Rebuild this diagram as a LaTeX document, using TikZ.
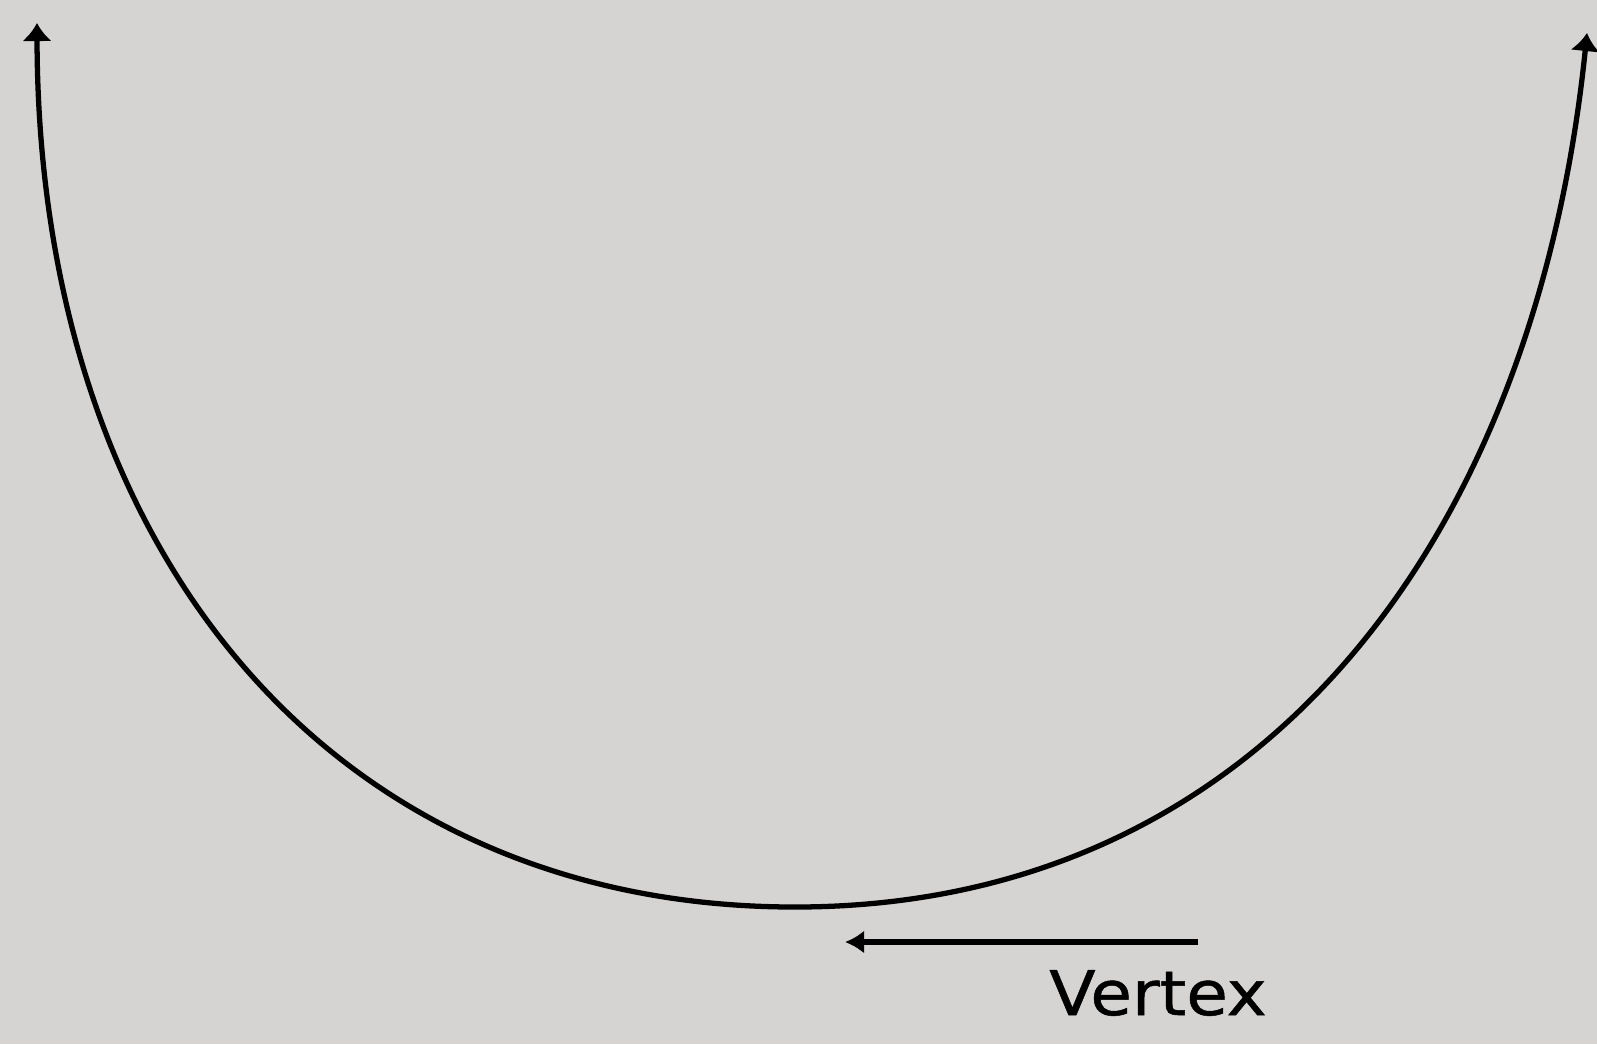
\documentclass[tikz,border=0pt]{standalone}
\usepackage{fontspec}
\setmainfont{DejaVu Sans}
\newfontfamily\vxfont[FakeStretch=1.1,FakeBold=0.8]{DejaVu Sans}
\usetikzlibrary{arrows.meta}

\definecolor{paper}{RGB}{214,212,210}

\begin{document}
\begin{tikzpicture}[curve/.style = {line width=1.5pt, -{Latex[length=1.8mm,width=3mm]}},
                    label/.style = {font=\vxfont\fontsize{17.5}{20}\selectfont, inner sep=0pt}]
            \fill[paper] (0,0) rectangle (15.97,-10.44);
            \useasboundingbox (0,0) rectangle (15.97,-10.44);

            % the parabola, drawn from its lowest point outwards
            \coordinate (V) at (7.95,-9.07);
            \coordinate (L) at (0.37,-0.23);
            \coordinate (R) at (15.87,-0.33);
            \draw[curve] (V) .. controls (3.30,-9.07) and (0.38,-5.50) .. (L);
            \draw[curve] (V) .. controls (12.60,-9.07) and (15.35,-5.40) .. (R);

            \node[label, anchor=base] (vx) at (11.58,-10.15) {Vertex};
            \coordinate (tail) at (11.98,-9.42);
            \coordinate (head) at (8.45,-9.42);
            \draw[line width=1.7pt, -{Latex[length=1.9mm,width=2.3mm]}] (tail) -- (head);
\end{tikzpicture}
\end{document}
